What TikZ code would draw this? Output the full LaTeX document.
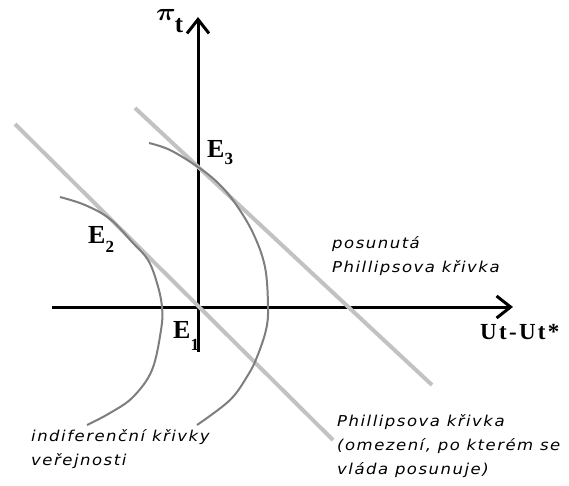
\documentclass[tikz,border=0pt]{standalone}
\usepackage{fontspec}
\usepackage{amsmath}
\setmainfont{Liberation Serif}
\newfontfamily\labfont[LetterSpace=10,FakeStretch=1.1]{DejaVu Sans}
\newfontfamily\axfont[LetterSpace=10]{Liberation Serif}
\usetikzlibrary{arrows.meta}
\definecolor{phgray}{HTML}{C2C2C2}
\definecolor{indgray}{HTML}{7E7E7E}
\begin{document}
\begin{tikzpicture}[x=1pt,y=-1pt,
  axisline/.style={line width=3pt, -{Straight Barb[length=14pt,width=22pt,line width=3pt]}},
  phil/.style={line width=4pt, draw=phgray},
  indif/.style={line width=2pt, draw=indgray},
  lab/.style={font=\labfont\itshape\fontsize{15}{24}\selectfont, align=left, anchor=west, inner sep=0pt},
  elab/.style={font=\bfseries\fontsize{26}{26}\selectfont, inner sep=0pt, anchor=base west}]
\useasboundingbox (0,0) rectangle (569,485);
% axes
\coordinate (xs) at (52,307);
\coordinate (xe) at (513,307);
\coordinate (ys) at (198,352);
\coordinate (ye) at (198,17);
\draw[axisline] (xs) -- (xe);
\draw[axisline] (ys) -- (ye);
% Phillips curves
\coordinate (p1s) at (15,124);
\coordinate (p1e) at (333,440);
\coordinate (p2s) at (135,108);
\coordinate (p2e) at (432,385);
\draw[phil] (p1s) -- (p1e);
\draw[phil] (p2s) -- (p2e);
% indifference curves
\draw[indif] plot[smooth, tension=0.6] coordinates {(60,197) (85,205) (110,219) (133,243) (148,260) (157,283) (162,307) (161,330) (152,370) (133,397) (110,413) (87,425)};
\draw[indif] plot[smooth, tension=0.6] coordinates {(149,143) (170,150) (198,167) (218,183) (235,203) (253,233) (265,267) (268,307) (266,330) (257,357) (248,375) (230,400) (197,425)};
% labels
\node[inner sep=0pt, anchor=base west] (pilab) at (156,20) {\fontsize{24}{24}\selectfont\scalebox{1.1}[1]{$\boldsymbol{\pi}$}\hspace{-1pt}\raisebox{-12pt}{\bfseries\fontsize{25}{25}\selectfont t}};
\node[elab] (e3) at (207,157) {E\raisebox{-7pt}{\fontsize{17}{17}\selectfont 3}};
\node[elab] (e2) at (88,243) {E\raisebox{-9pt}{\fontsize{17}{17}\selectfont 2}};
\node[elab] (e1) at (173,338) {E\raisebox{-12pt}{\fontsize{17}{17}\selectfont 1}};
\node[inner sep=0pt, anchor=west, font=\axfont\bfseries\fontsize{23}{23}\selectfont] (xlab) at (480,332) {Ut-Ut*};
\node[lab] (pos) at (332,256) {posunutá\\Phillipsova křivka};
\node[lab] (ind) at (31,449) {indiferenční křivky\\veřejnosti};
\node[lab] (phl) at (337,446) {Phillipsova křivka\\(omezení, po kterém se\\vláda posunuje)};
\end{tikzpicture}
\end{document}
